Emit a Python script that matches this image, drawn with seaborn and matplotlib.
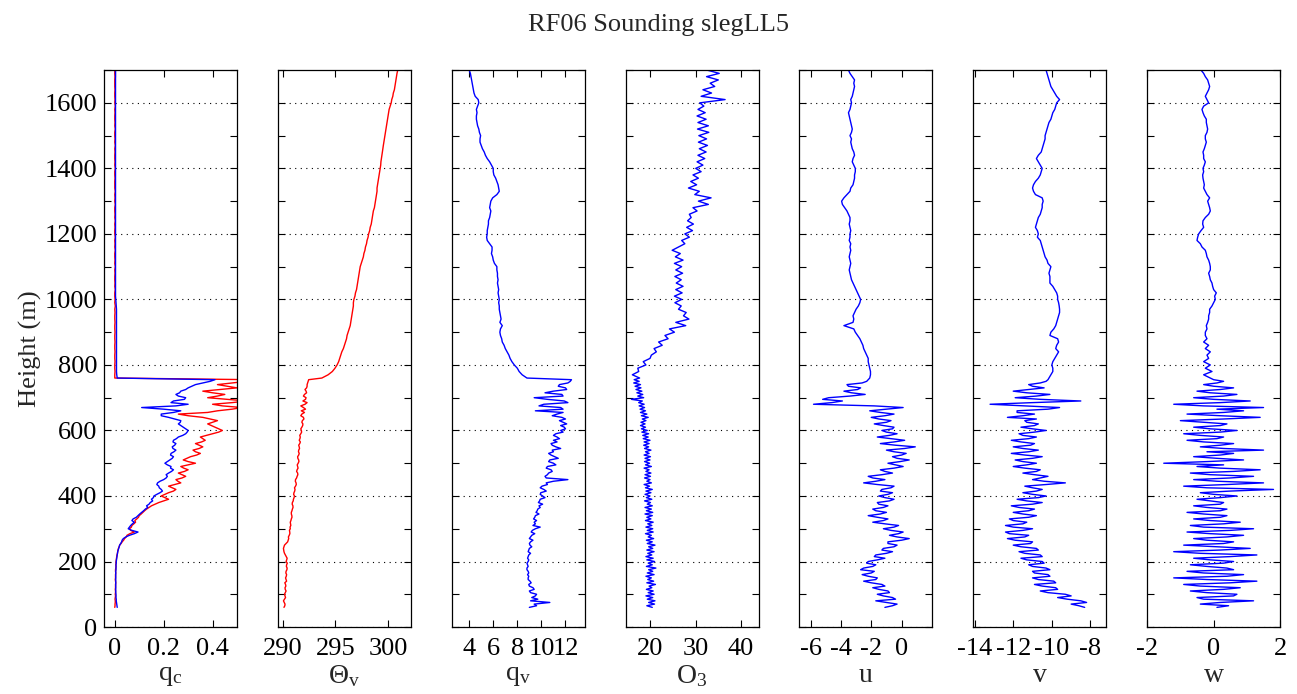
import matplotlib
matplotlib.use("Agg")
import matplotlib.pyplot as plt
from matplotlib.ticker import MultipleLocator
import pandas as pd
import seaborn as sns

# Sounding heights (m): 5 m steps in the boundary layer, 10 m above
height = [
    60, 65, 70, 75, 80, 85, 90, 95, 100, 105,
    110, 115, 120, 125, 130, 135, 140, 145, 150, 155,
    160, 165, 170, 175, 180, 185, 190, 195, 200, 205,
    210, 215, 220, 225, 230, 235, 240, 245, 250, 255,
    260, 265, 270, 275, 280, 285, 290, 295, 300, 305,
    310, 315, 320, 325, 330, 335, 340, 345, 350, 355,
    360, 365, 370, 375, 380, 385, 390, 395, 400, 405,
    410, 415, 420, 425, 430, 435, 440, 445, 450, 455,
    460, 465, 470, 475, 480, 485, 490, 495, 500, 505,
    510, 515, 520, 525, 530, 535, 540, 545, 550, 555,
    560, 565, 570, 575, 580, 585, 590, 595, 600, 605,
    610, 615, 620, 625, 630, 635, 640, 645, 650, 655,
    660, 665, 670, 675, 680, 685, 690, 695, 700, 705,
    710, 715, 720, 725, 730, 735, 740, 745, 750, 755,
    760, 770, 780, 790, 800, 810, 820, 830, 840, 850,
    860, 870, 880, 890, 900, 910, 920, 930, 940, 950,
    960, 970, 980, 990, 1000, 1010, 1020, 1030, 1040, 1050,
    1060, 1070, 1080, 1090, 1100, 1110, 1120, 1130, 1140, 1150,
    1160, 1170, 1180, 1190, 1200, 1210, 1220, 1230, 1240, 1250,
    1260, 1270, 1280, 1290, 1300, 1310, 1320, 1330, 1340, 1350,
    1360, 1370, 1380, 1390, 1400, 1410, 1420, 1430, 1440, 1450,
    1460, 1470, 1480, 1490, 1500, 1510, 1520, 1530, 1540, 1550,
    1560, 1570, 1580, 1590, 1600, 1610, 1620, 1630, 1640, 1650,
    1660, 1670, 1680, 1690, 1700,
]

# Cloud liquid water from two probes (g/kg)
qc_probe_a = [
    0.000, 0.001, 0.001, 0.002, 0.002, 0.001, 0.002, 0.003, 0.002, 0.003,
    0.003, 0.002, 0.003, 0.003, 0.003, 0.004, 0.003, 0.002, 0.003, 0.003,
    0.003, 0.004, 0.003, 0.003, 0.004, 0.005, 0.004, 0.005, 0.005, 0.006,
    0.007, 0.008, 0.009, 0.011, 0.012, 0.013, 0.015, 0.018, 0.020, 0.026,
    0.030, 0.036, 0.040, 0.047, 0.050, 0.062, 0.080, 0.065, 0.060, 0.068,
    0.070, 0.078, 0.085, 0.082, 0.090, 0.097, 0.100, 0.108, 0.115, 0.122,
    0.130, 0.140, 0.150, 0.165, 0.180, 0.200, 0.220, 0.205, 0.190, 0.205,
    0.220, 0.240, 0.250, 0.235, 0.220, 0.245, 0.270, 0.258, 0.250, 0.275,
    0.290, 0.275, 0.260, 0.285, 0.300, 0.282, 0.270, 0.300, 0.330, 0.300,
    0.280, 0.295, 0.310, 0.335, 0.350, 0.330, 0.320, 0.345, 0.360, 0.345,
    0.330, 0.355, 0.370, 0.360, 0.350, 0.375, 0.400, 0.425, 0.440, 0.425,
    0.410, 0.395, 0.380, 0.400, 0.420, 0.390, 0.360, 0.300, 0.260, 0.380,
    0.420, 0.480, 0.520, 0.440, 0.400, 0.480, 0.540, 0.460, 0.380, 0.420,
    0.450, 0.400, 0.360, 0.430, 0.500, 0.460, 0.420, 0.480, 0.540, 0.560,
    0.000, 0.000, 0.001, 0.000, 0.000, 0.001, 0.000, 0.000, 0.001, 0.000,
    0.000, 0.001, 0.000, 0.000, 0.001, 0.000, 0.000, 0.001, 0.000, 0.000,
    0.001, 0.000, 0.002, 0.000, 0.001, 0.000, 0.000, 0.002, 0.000, 0.001,
    0.000, 0.000, 0.001, 0.000, 0.002, 0.000, 0.001, 0.000, 0.000, 0.002,
    0.000, 0.001, 0.000, 0.002, 0.000, 0.000, 0.001, 0.000, 0.002, 0.000,
    0.001, 0.000, 0.000, 0.002, 0.000, 0.001, 0.000, 0.002, 0.000, 0.000,
    0.000, 0.001, 0.000, 0.000, 0.002, 0.000, 0.001, 0.000, 0.000, 0.001,
    0.000, 0.002, 0.000, 0.001, 0.000, 0.000, 0.002, 0.000, 0.001, 0.000,
    0.000, 0.001, 0.000, 0.002, 0.000, 0.001, 0.000, 0.000, 0.001, 0.000,
    0.000, 0.000, 0.001, 0.000, 0.000,
]
qc_probe_b = [
    0.010, 0.009, 0.008, 0.007, 0.006, 0.006, 0.005, 0.005, 0.005, 0.004,
    0.004, 0.004, 0.004, 0.004, 0.004, 0.004, 0.004, 0.004, 0.004, 0.004,
    0.004, 0.004, 0.004, 0.005, 0.005, 0.005, 0.005, 0.006, 0.006, 0.007,
    0.008, 0.009, 0.010, 0.011, 0.012, 0.014, 0.016, 0.018, 0.020, 0.024,
    0.028, 0.030, 0.035, 0.045, 0.060, 0.080, 0.095, 0.070, 0.055, 0.060,
    0.065, 0.072, 0.080, 0.070, 0.075, 0.088, 0.095, 0.102, 0.110, 0.118,
    0.125, 0.135, 0.130, 0.140, 0.145, 0.155, 0.150, 0.158, 0.160, 0.172,
    0.185, 0.195, 0.190, 0.182, 0.180, 0.172, 0.175, 0.185, 0.200, 0.210,
    0.215, 0.210, 0.220, 0.232, 0.240, 0.228, 0.230, 0.215, 0.205, 0.215,
    0.225, 0.235, 0.240, 0.228, 0.230, 0.242, 0.250, 0.238, 0.235, 0.245,
    0.250, 0.238, 0.240, 0.252, 0.260, 0.278, 0.290, 0.296, 0.300, 0.290,
    0.280, 0.270, 0.260, 0.268, 0.270, 0.245, 0.220, 0.190, 0.190, 0.240,
    0.270, 0.200, 0.110, 0.250, 0.300, 0.230, 0.240, 0.285, 0.290, 0.260,
    0.250, 0.265, 0.270, 0.290, 0.300, 0.315, 0.330, 0.360, 0.390, 0.410,
    0.010, 0.008, 0.007, 0.007, 0.007, 0.007, 0.007, 0.007, 0.007, 0.007,
    0.007, 0.007, 0.007, 0.007, 0.007, 0.007, 0.007, 0.007, 0.007, 0.007,
    0.007, 0.007, 0.006, 0.005, 0.004, 0.003, 0.003, 0.003, 0.003, 0.003,
    0.003, 0.003, 0.003, 0.003, 0.003, 0.003, 0.003, 0.003, 0.003, 0.003,
    0.003, 0.003, 0.003, 0.003, 0.003, 0.003, 0.003, 0.003, 0.003, 0.003,
    0.003, 0.003, 0.003, 0.003, 0.003, 0.003, 0.003, 0.003, 0.003, 0.003,
    0.003, 0.003, 0.003, 0.003, 0.003, 0.003, 0.003, 0.003, 0.003, 0.003,
    0.003, 0.003, 0.003, 0.003, 0.003, 0.003, 0.003, 0.003, 0.003, 0.003,
    0.003, 0.003, 0.003, 0.003, 0.003, 0.003, 0.003, 0.003, 0.003, 0.003,
    0.003, 0.003, 0.003, 0.003, 0.003,
]

# Virtual potential temperature (K)
theta_v = [
    290.10, 290.18, 290.20, 290.12, 290.05, 290.15, 290.25, 290.20, 290.15, 290.22,
    290.30, 290.22, 290.20, 290.28, 290.25, 290.18, 290.35, 290.30, 290.25, 290.32,
    290.35, 290.28, 290.30, 290.38, 290.40, 290.33, 290.35, 290.42, 290.30, 290.36,
    290.40, 290.32, 290.25, 290.15, 290.10, 290.08, 290.05, 290.10, 290.15, 290.30,
    290.45, 290.50, 290.55, 290.52, 290.60, 290.66, 290.65, 290.62, 290.70, 290.68,
    290.75, 290.72, 290.70, 290.76, 290.80, 290.86, 290.85, 290.80, 290.80, 290.86,
    290.90, 290.96, 290.95, 290.88, 290.90, 290.98, 291.00, 291.06, 291.10, 291.02,
    291.05, 291.12, 291.15, 291.10, 291.20, 291.27, 291.25, 291.18, 291.20, 291.30,
    291.35, 291.42, 291.40, 291.30, 291.35, 291.44, 291.40, 291.36, 291.45, 291.52,
    291.50, 291.42, 291.40, 291.50, 291.55, 291.48, 291.50, 291.58, 291.55, 291.50,
    291.60, 291.66, 291.55, 291.62, 291.65, 291.60, 291.70, 291.78, 291.75, 291.70,
    291.80, 291.88, 291.90, 291.80, 291.85, 292.00, 291.95, 291.70, 291.80, 292.05,
    291.75, 292.15, 291.95, 291.70, 292.10, 292.30, 291.90, 292.15, 292.20, 291.95,
    292.05, 292.25, 292.20, 292.10, 292.25, 292.30, 292.30, 292.35, 292.40, 292.45,
    293.70, 294.30, 294.70, 294.95, 295.15, 295.30, 295.40, 295.50, 295.60, 295.75,
    295.85, 295.95, 296.05, 296.10, 296.20, 296.30, 296.40, 296.45, 296.50, 296.55,
    296.60, 296.65, 296.70, 296.70, 296.75, 296.85, 296.90, 297.00, 297.05, 297.10,
    297.15, 297.20, 297.25, 297.30, 297.35, 297.45, 297.55, 297.65, 297.70, 297.80,
    297.85, 297.95, 298.00, 298.10, 298.15, 298.25, 298.30, 298.40, 298.45, 298.50,
    298.55, 298.60, 298.70, 298.75, 298.80, 298.85, 298.90, 298.95, 298.95, 299.00,
    299.05, 299.10, 299.15, 299.20, 299.25, 299.30, 299.32, 299.37, 299.42, 299.46,
    299.50, 299.55, 299.60, 299.65, 299.70, 299.75, 299.80, 299.85, 299.90, 299.95,
    300.00, 300.05, 300.10, 300.20, 300.30, 300.35, 300.45, 300.50, 300.60, 300.65,
    300.70, 300.75, 300.80, 300.85, 300.92,
]

# Water vapour mixing ratio (g/kg)
q_v = [
    9.00, 9.60, 9.40, 10.70, 9.10, 9.70, 9.20, 9.50, 9.60, 9.10,
    9.00, 9.40, 9.30, 9.00, 8.95, 9.15, 9.05, 8.90, 8.90, 8.95,
    8.85, 8.95, 8.90, 8.80, 8.80, 8.90, 8.85, 8.80, 8.90, 8.95,
    8.85, 8.90, 8.95, 9.10, 8.90, 8.95, 9.00, 9.20, 9.05, 9.00,
    9.10, 9.30, 9.00, 9.10, 9.20, 9.45, 9.15, 9.25, 9.50, 9.90,
    9.30, 9.50, 9.40, 9.60, 9.35, 9.45, 9.50, 9.80, 9.55, 9.65,
    9.70, 9.90, 9.80, 10.10, 9.75, 9.85, 9.90, 10.30, 10.10, 9.90,
    9.95, 10.40, 10.20, 9.90, 10.05, 10.50, 10.40, 11.00, 12.20, 10.40,
    10.30, 10.50, 10.60, 10.90, 10.80, 10.40, 10.50, 11.20, 11.00, 10.60,
    10.70, 11.40, 11.10, 10.80, 10.60, 11.00, 10.90, 11.60, 11.20, 10.90,
    10.80, 11.30, 11.00, 11.50, 11.30, 11.00, 11.20, 11.80, 11.60, 12.00,
    11.90, 11.60, 12.10, 11.80, 11.50, 12.00, 11.70, 10.90, 11.30, 11.80,
    9.50, 11.80, 11.60, 9.80, 10.20, 12.20, 11.90, 10.50, 9.40, 11.80,
    11.70, 10.30, 11.00, 12.10, 12.00, 11.40, 11.50, 12.20, 12.40, 12.50,
    8.80, 8.40, 8.15, 8.00, 7.75, 7.55, 7.40, 7.30, 7.15, 7.00,
    6.90, 6.75, 6.70, 6.60, 6.55, 6.60, 6.75, 6.55, 6.65, 6.60,
    6.55, 6.50, 6.50, 6.45, 6.50, 6.45, 6.40, 6.45, 6.40, 6.35,
    6.40, 6.35, 6.35, 6.30, 6.30, 6.10, 6.00, 5.95, 5.85, 5.90,
    5.90, 5.70, 5.50, 5.45, 5.50, 5.50, 5.55, 5.60, 5.60, 5.70,
    5.75, 5.80, 5.70, 5.75, 5.80, 5.95, 6.30, 6.50, 6.45, 6.40,
    6.30, 6.20, 6.05, 6.00, 6.00, 5.85, 5.70, 5.50, 5.35, 5.25,
    5.10, 5.00, 4.90, 4.90, 4.95, 4.85, 4.80, 4.70, 4.65, 4.60,
    4.60, 4.65, 4.60, 4.70, 4.80, 4.75, 4.50, 4.40, 4.35, 4.30,
    4.25, 4.20, 4.15, 4.10, 4.00,
]

# Ozone (ppb)
o3 = [
    20.4, 19.2, 20.9, 19.6, 21.0, 19.3, 20.5, 19.0, 20.8, 19.5,
    20.6, 19.1, 20.3, 19.7, 21.1, 19.2, 20.7, 19.4, 20.2, 19.0,
    20.8, 19.3, 20.5, 19.6, 21.2, 19.1, 20.4, 19.5, 20.9, 19.2,
    20.6, 19.0, 20.3, 19.4, 20.8, 19.2, 20.5, 19.6, 21.0, 19.3,
    20.4, 19.1, 20.7, 19.5, 20.2, 18.9, 20.6, 19.3, 20.5, 19.0,
    20.3, 19.4, 20.6, 18.9, 20.1, 19.2, 20.4, 18.8, 20.5, 19.1,
    20.2, 18.8, 20.4, 19.3, 20.0, 18.7, 20.3, 19.1, 19.9, 18.8,
    20.1, 19.0, 20.4, 18.9, 19.8, 18.6, 20.2, 19.2, 19.9, 18.7,
    20.0, 18.8, 20.1, 19.0, 19.7, 18.6, 20.2, 18.9, 19.8, 18.7,
    19.9, 18.8, 20.0, 18.6, 19.7, 18.9, 20.1, 18.7, 19.6, 18.5,
    19.7, 18.6, 19.9, 18.4, 19.5, 18.3, 19.6, 18.1, 19.3, 18.0,
    18.9, 17.8, 18.8, 17.9, 19.0, 18.2, 19.5, 18.0, 19.2, 17.8,
    18.9, 17.7, 18.7, 17.5, 18.6, 17.4, 18.2, 15.8, 18.5, 17.2,
    18.3, 17.0, 18.1, 16.8, 17.9, 16.6, 17.8, 16.3, 17.5, 16.4,
    17.6, 16.0, 17.4, 17.2, 19.0, 18.4, 19.9, 20.2, 21.3, 20.8,
    22.6, 21.8, 23.9, 23.2, 25.3, 24.2, 27.8, 25.6, 28.5, 27.3,
    27.9, 26.2, 26.8, 25.4, 26.9, 25.3, 27.0, 25.6, 27.2, 25.7,
    26.8, 25.4, 27.1, 25.6, 26.9, 25.3, 27.2, 25.5, 26.6, 24.8,
    26.2, 27.6, 26.9, 28.6, 27.6, 29.3, 28.0, 29.5, 28.2, 29.0,
    28.6, 30.3, 29.4, 32.8, 30.6, 33.4, 29.8, 30.8, 28.4, 30.2,
    28.9, 30.6, 29.4, 31.2, 30.0, 31.6, 30.3, 32.0, 30.5, 32.3,
    30.8, 32.6, 30.6, 32.4, 30.7, 32.9, 30.4, 32.8, 30.5, 32.3,
    30.3, 32.1, 30.5, 31.8, 30.9, 36.5, 31.2, 33.5, 31.6, 34.2,
    33.2, 35.0, 32.4, 35.2, 32.5,
]

# Wind components (m/s)
u_wind = [
    -1.10, -0.60, -0.30, -1.00, -1.70, -0.40, -0.60, -1.20, -1.60, -0.80,
    -0.90, -1.50, -1.90, -1.10, -1.30, -2.00, -2.50, -1.70, -1.60, -2.20,
    -2.60, -2.00, -1.80, -2.70, -2.50, -1.90, -1.70, -2.30, -2.20, -1.60,
    -1.10, -1.80, -1.70, -1.00, -0.60, -1.30, -1.20, -0.50, -0.30, -0.90,
    -0.90, 0.00, 0.50, -0.30, -0.80, -0.20, 0.10, -0.70, -1.20, -0.50,
    -0.20, -1.10, -1.90, -1.20, -0.90, -1.60, -2.20, -1.40, -1.00, -1.70,
    -1.90, -1.20, -0.90, -1.50, -1.60, -0.80, -0.50, -1.10, -1.50, -0.90,
    -0.60, -1.40, -1.30, -0.70, -0.50, -1.60, -2.50, -1.70, -1.10, -1.90,
    -2.20, -1.30, -0.60, -1.10, -1.40, -0.50, 0.10, -0.40, -0.90, -0.10,
    0.50, -0.30, -0.60, 0.00, 0.30, -0.50, -1.00, 0.20, 0.90, -0.40,
    -1.40, -0.50, 0.20, -0.70, -1.60, -0.80, -0.30, -1.00, -1.30, -0.60,
    -0.50, -1.20, -1.80, -1.00, -0.70, -1.50, -2.00, -1.10, -0.50, -1.40,
    -2.10, -1.00, 0.10, -1.80, -5.80, -4.60, -3.90, -5.20, -4.80, -3.40,
    -2.40, -3.30, -3.80, -2.90, -2.70, -3.50, -3.60, -2.60, -2.30, -2.20,
    -2.10, -2.05, -2.05, -2.10, -2.15, -2.20, -2.20, -2.30, -2.40, -2.50,
    -2.55, -2.65, -2.75, -2.90, -3.05, -3.15, -3.80, -3.20, -3.15, -3.20,
    -3.10, -3.00, -2.85, -2.75, -2.70, -2.80, -2.90, -3.00, -3.10, -3.20,
    -3.30, -3.35, -3.40, -3.45, -3.40, -3.35, -3.40, -3.45, -3.40, -3.35,
    -3.40, -3.35, -3.45, -3.40, -3.40, -3.35, -3.40, -3.45, -3.40, -3.40,
    -3.50, -3.60, -3.75, -3.90, -3.95, -3.80, -3.60, -3.40, -3.35, -3.20,
    -3.15, -3.10, -3.10, -3.05, -3.05, -3.15, -3.25, -3.20, -3.10, -3.15,
    -3.25, -3.30, -3.35, -3.30, -3.40, -3.30, -3.25, -3.30, -3.35, -3.40,
    -3.45, -3.50, -3.40, -3.35, -3.30, -3.35, -3.25, -3.20, -3.15, -3.10,
    -3.15, -3.10, -3.25, -3.40, -3.50,
]
v_wind = [
    -8.30, -8.60, -9.00, -8.20, -8.50, -9.20, -9.70, -9.00, -9.30, -10.20,
    -10.60, -9.70, -9.80, -10.50, -10.90, -9.80, -9.90, -10.70, -11.00, -10.10,
    -10.20, -10.90, -11.00, -10.10, -10.30, -11.00, -11.20, -10.40, -10.50, -11.30,
    -11.60, -10.50, -10.60, -11.40, -11.70, -10.70, -10.80, -11.60, -12.00, -11.10,
    -11.00, -11.90, -12.30, -11.40, -11.20, -12.20, -12.40, -11.50, -11.00, -12.00,
    -12.40, -11.50, -11.30, -12.00, -12.20, -11.20, -10.80, -11.50, -12.00, -11.20,
    -10.90, -11.70, -12.10, -11.00, -10.50, -11.30, -11.80, -10.70, -10.30, -11.00,
    -11.50, -10.80, -10.50, -11.00, -11.40, -10.30, -9.30, -10.40, -11.00, -10.60,
    -10.20, -10.90, -11.50, -10.80, -10.60, -11.40, -12.00, -11.30, -10.80, -11.50,
    -11.90, -11.00, -10.50, -11.40, -12.10, -11.20, -10.70, -11.50, -12.00, -11.10,
    -10.90, -11.60, -12.10, -11.20, -10.80, -11.50, -11.70, -10.90, -10.30, -11.00,
    -11.60, -10.90, -10.70, -11.30, -11.40, -10.80, -12.30, -11.50, -10.90, -11.80,
    -11.80, -10.20, -9.60, -11.40, -13.20, -11.00, -8.50, -10.60, -11.90, -10.80,
    -10.10, -11.30, -12.00, -11.20, -10.40, -11.00, -11.20, -10.60, -10.30, -10.20,
    -10.15, -10.05, -9.95, -9.95, -10.00, -9.95, -9.85, -9.75, -9.65, -9.80,
    -9.75, -9.65, -9.70, -10.10, -10.05, -9.90, -9.80, -9.75, -9.70, -9.65,
    -9.60, -9.60, -9.62, -9.65, -9.70, -9.70, -9.75, -9.85, -9.95, -10.10,
    -10.10, -10.10, -10.15, -10.10, -10.05, -10.20, -10.25, -10.35, -10.40, -10.45,
    -10.50, -10.55, -10.60, -10.75, -10.70, -10.75, -10.85, -10.80, -10.75, -10.70,
    -10.60, -10.55, -10.50, -10.50, -10.45, -10.50, -10.85, -10.95, -11.00, -10.95,
    -10.85, -10.70, -10.60, -10.55, -10.50, -10.60, -10.70, -10.80, -10.70, -10.55,
    -10.50, -10.45, -10.40, -10.35, -10.35, -10.30, -10.25, -10.20, -10.15, -10.05,
    -10.00, -9.95, -9.85, -9.80, -9.75, -9.60, -9.75, -9.85, -9.95, -10.05,
    -10.10, -10.15, -10.20, -10.25, -10.30,
]
w_wind = [
    0.10, 0.45, -0.40, 0.20, 1.20, -0.30, -0.50, 0.60, 0.70, -0.20,
    -0.70, 0.30, 0.80, -0.40, -0.90, 0.50, 1.30, -0.20, -1.20, 0.40,
    0.90, -0.30, -0.80, 0.60, 0.40, -0.20, -0.70, 0.30, 0.60, -0.10,
    -0.60, 0.50, 1.30, -0.40, -1.20, 0.20, 1.10, 0.10, -0.90, 0.30,
    0.60, -0.20, -0.60, 0.40, 0.90, -0.10, -0.80, 0.50, 1.20, -0.30,
    -0.70, 0.30, 0.80, -0.10, -0.60, 0.20, 0.40, -0.30, -0.80, 0.20,
    0.40, -0.20, -0.60, 0.20, 0.30, -0.10, -0.50, 0.20, 0.70, 0.00,
    -0.40, 0.50, 1.80, -0.20, -0.90, 0.40, 1.50, 0.10, -0.60, 0.50,
    1.20, -0.10, -0.70, 0.60, 1.40, 0.20, -0.50, 0.30, -1.50, -0.20,
    0.90, 0.10, -0.60, 0.20, 0.60, -0.20, 1.50, 0.30, -0.40, 0.20,
    0.60, -0.30, -0.80, 0.10, 0.30, -0.40, -0.90, 0.20, 0.70, -0.10,
    -0.60, 0.20, 0.40, -0.30, -1.00, 0.30, 1.40, 0.20, -0.80, 0.30,
    0.90, 0.10, 1.50, -0.30, -1.20, 0.20, 1.10, 0.00, -0.60, 0.30,
    0.70, -0.10, -0.50, 0.20, 0.60, 0.00, -0.30, 0.10, 0.30, 0.00,
    -0.10, -0.30, -0.05, -0.25, -0.10, -0.30, -0.15, -0.20, -0.10, -0.25,
    -0.15, -0.30, -0.20, -0.25, -0.25, -0.20, -0.22, -0.18, -0.15, -0.15,
    -0.12, -0.12, -0.05, 0.00, 0.05, 0.03, 0.08, 0.00, -0.03, -0.05,
    -0.10, -0.12, -0.15, -0.10, -0.10, -0.12, -0.15, -0.20, -0.22, -0.25,
    -0.35, -0.40, -0.50, -0.48, -0.45, -0.38, -0.30, -0.33, -0.32, -0.25,
    -0.15, -0.10, -0.12, -0.15, -0.18, -0.12, -0.20, -0.25, -0.30, -0.28,
    -0.30, -0.32, -0.33, -0.30, -0.32, -0.28, -0.25, -0.30, -0.30, -0.32,
    -0.28, -0.25, -0.22, -0.25, -0.25, -0.20, -0.18, -0.20, -0.22, -0.22,
    -0.28, -0.32, -0.35, -0.30, -0.15, -0.20, -0.25, -0.20, -0.15, -0.12,
    -0.15, -0.18, -0.25, -0.30, -0.38,
]

# Panel labels, axis ranges and tick positions
panel_labels = [r"$\mathrm{q_c}$", r"$\Theta_\mathrm{v}$", r"$\mathrm{q_v}$",
                r"$\mathrm{O_3}$", "u", "v", "w"]
panel_xlims = [(-0.044, 0.5), (289.52, 302.17), (2.55, 13.6), (14.5, 43.9),
               (-6.73, 2.03), (-14.07, -7.18), (-2.0, 2.0)]
panel_xticks = [[0, 0.2, 0.4], [290, 295, 300], [4, 6, 8, 10, 12], [20, 30, 40],
                [-6, -4, -2, 0], [-14, -12, -10, -8], [-2, 0, 2]]
panel_xticklabels = [["0", "0.2", "0.4"], ["290", "295", "300"],
                     ["4", "6", "8", "10", "12"], ["20", "30", "40"],
                     ["-6", "-4", "-2", "0"], ["-14", "-12", "-10", "-8"],
                     ["-2", "0", "2"]]
yticks = [0, 200, 400, 600, 800, 1000, 1200, 1400, 1600]

RED = "#ff0000"
BLUE = "#0000ff"

profiles = pd.DataFrame({
    "height": height, "qc_a": qc_probe_a, "qc_b": qc_probe_b,
    "theta_v": theta_v, "q_v": q_v, "o3": o3,
    "u": u_wind, "v": v_wind, "w": w_wind,
})
panel_series = [
    [("qc_a", RED), ("qc_b", BLUE)],
    [("theta_v", RED)],
    [("q_v", BLUE)],
    [("o3", BLUE)],
    [("u", BLUE)],
    [("v", BLUE)],
    [("w", BLUE)],
]

sns.set_style("ticks")
plt.rcParams.update({
    "font.family": ["Liberation Serif", "DejaVu Serif"],
    "mathtext.fontset": "custom",
    "mathtext.rm": "Liberation Serif",
    "mathtext.it": "Liberation Serif:italic",
    "mathtext.bf": "Liberation Serif:bold",
    "axes.unicode_minus": False,
    "axes.edgecolor": "black",
    "axes.linewidth": 0.9,
    "xtick.color": "black",
    "ytick.color": "black",
})

fig, axes = plt.subplots(1, 7, figsize=(12.97, 6.94), dpi=100, sharey=True)
fig.subplots_adjust(left=0.0802, right=0.987, bottom=0.0965, top=0.899, wspace=0.307)

for i, ax in enumerate(axes):
    for col, colour in panel_series[i]:
        sns.lineplot(data=profiles, x=col, y="height", orient="y", sort=False,
                     estimator=None, color=colour, lw=1.0, ax=ax, legend=False)
    ax.set_xlim(*panel_xlims[i])
    ax.set_ylim(0, 1700)
    ax.set_xticks(panel_xticks[i])
    ax.set_xticklabels(panel_xticklabels[i])
    ax.set_yticks(yticks)
    ax.yaxis.set_minor_locator(MultipleLocator(100))
    ax.grid(axis="y", which="major", color="black", linestyle=(0, (1, 4)), lw=0.8)
    ax.tick_params(axis="both", which="both", direction="in", top=True, right=True,
                   length=5, width=0.8, labelsize=19)
    ax.tick_params(axis="x", pad=8)
    ax.tick_params(axis="y", pad=5)
    ax.set_xlabel(panel_labels[i], fontsize=20, labelpad=2)
    if i == 0:
        ax.set_ylabel("Height (m)", fontsize=19, labelpad=2)
    else:
        ax.set_ylabel("")
        ax.tick_params(axis="y", labelleft=False)
    for spine in ax.spines.values():
        spine.set_visible(True)
        spine.set_color("black")

fig.suptitle("RF06 Sounding slegLL5", fontsize=19, x=0.508, y=0.964, va="center")
fig.savefig("out.png", dpi=100)
